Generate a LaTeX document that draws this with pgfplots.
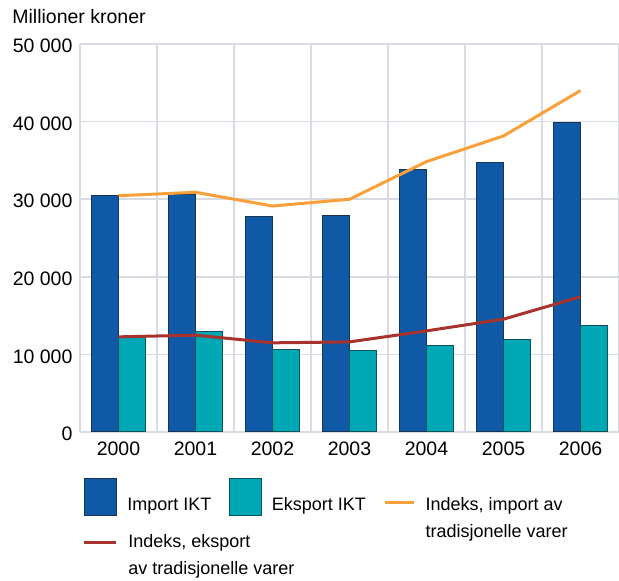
\documentclass[border=0pt]{standalone}
\usepackage{fontspec}
\setmainfont{Liberation Sans}
\usepackage{pgfplots}
\pgfplotsset{compat=1.18}
\definecolor{impc}{RGB}{16,89,166}
\definecolor{impcd}{RGB}{24,52,84}
\definecolor{expc}{RGB}{0,167,181}
\definecolor{expcd}{RGB}{10,84,94}
\definecolor{orac}{RGB}{249,160,58}
\definecolor{redc}{RGB}{168,50,45}
\definecolor{gridc}{RGB}{216,219,225}
\pgfplotsset{
  impleg/.style={legend image code/.code={%
    \path[draw=none,fill=none] (0pt,-14.95pt) -- (0pt,14.95pt);
    \draw[fill=impc, draw=impcd, line width=0.5pt] (0pt,-3.55pt) rectangle (16pt,14.95pt);}},
  expleg/.style={legend image code/.code={%
    \path[draw=none,fill=none] (0pt,-14.95pt) -- (0pt,14.95pt);
    \draw[fill=expc, draw=expcd, line width=0.5pt] (0pt,-3.55pt) rectangle (16pt,14.95pt);}},
  oraleg/.style={legend image code/.code={%
    \path[draw=none,fill=none] (0pt,-3.35pt) -- (0pt,3.35pt);
    \draw[orac, line width=1.5pt] (0pt,3.35pt) -- (14.5pt,3.35pt);}},
  redleg/.style={legend image code/.code={%
    \path[draw=none,fill=none] (0pt,-1.85pt) -- (0pt,1.85pt);
    \draw[redc, line width=1.5pt] (0pt,1.85pt) -- (16pt,1.85pt);}},
}
\begin{document}
\fontsize{9.75}{13.35}\selectfont
\begin{tikzpicture}
\useasboundingbox (0,0) rectangle (309.5pt,290.5pt);
\begin{axis}[
  at={(40pt,74.5pt)}, anchor=south west,
  scale only axis, width=269.5pt, height=194pt,
  xmin=-0.5, xmax=6.5, ymin=0, ymax=50000,
  xtick={0,1,2,3,4,5,6},
  xticklabels={2000,2001,2002,2003,2004,2005,2006},
  minor xtick={-0.5,0.5,1.5,2.5,3.5,4.5,5.5,6.5},
  ytick={0,10000,20000,30000,40000,50000},
  yticklabels={0,10 000,20 000,30 000,40 000,50 000},
  scaled y ticks=false,
  major tick length=0pt, minor tick length=0pt,
  xmajorgrids=false, xminorgrids=true, ymajorgrids=true,
  grid style={draw=gridc, line width=0.8pt},
  minor grid style={draw=gridc, line width=0.8pt},
  axis line style={draw=none},
  yticklabel style={anchor=east, inner sep=0pt, xshift=-3.6pt, yshift=-1pt},
  xticklabel style={anchor=north, inner sep=0pt, yshift=-4.5pt},
  legend columns=3,
  legend style={draw=none, fill=none, inner sep=0pt, outer sep=0pt,
    at={(0.005,-0.1198)}, anchor=north west,
    row sep=-5pt,
    font=\fontsize{9}{13.35}\selectfont,
    cells={anchor=west},
    nodes={inner sep=0pt},
    /tikz/every odd column/.style={column sep=4.8pt},
    /tikz/every even column/.style={column sep=9pt}},
]
\addplot[ybar, bar width=13.5pt, bar shift=-6.75pt, fill=impc, draw=impcd, line width=0.5pt, impleg]
  coordinates {(0,30500) (1,30630) (2,27740) (3,27870) (4,33860) (5,34710) (6,39870)};
\addlegendentry{\begin{tabular}{@{}l@{}}Import IKT\\\mbox{}\end{tabular}}
\addplot[ybar, bar width=13.5pt, bar shift=6.75pt, fill=expc, draw=expcd, line width=0.5pt, expleg]
  coordinates {(0,12350) (1,12900) (2,10670) (3,10540) (4,11190) (5,11920) (6,13770)};
\addlegendentry{\begin{tabular}{@{}l@{}}Eksport IKT\\\mbox{}\end{tabular}}
\addplot[orac, line width=1.5pt, mark=none, oraleg]
  coordinates {(0,30450) (1,30890) (2,29120) (3,29990) (4,34840) (5,38150) (6,44000)};
\addlegendentry{\begin{tabular}{@{}l@{}}Indeks, import av\\tradisjonelle varer\end{tabular}}
\addplot[redc, line width=1.5pt, mark=none, redleg]
  coordinates {(0,12260) (1,12480) (2,11490) (3,11610) (4,13030) (5,14540) (6,17420)};
\addlegendentry{\makebox[0pt][l]{\begin{tabular}{@{}l@{}}Indeks, eksport\\av tradisjonelle varer\end{tabular}}}
\end{axis}
\node[anchor=base west, inner sep=0pt] at (6pt,278.5pt) {Millioner kroner};
\end{tikzpicture}
\end{document}
